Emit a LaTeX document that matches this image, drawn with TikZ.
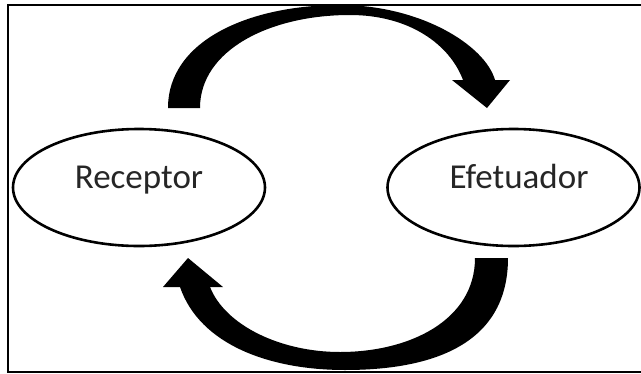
\documentclass[tikz,border=0pt]{standalone}
\usepackage{fontspec}
\setmainfont{Carlito}
\usetikzlibrary{shapes.geometric}
\begin{document}
\begin{tikzpicture}[x=1pt,y=-1pt,
  organ/.style={ellipse,draw=black,line width=2.6pt,inner sep=0pt,
    minimum width=252pt,minimum height=117pt},
  organlabel/.style={anchor=base,inner sep=0pt,text=black!85,
    font=\fontsize{35}{42}\selectfont},
  blockarrow/.style={fill=black,draw=none},
  frameline/.style={line width=2pt}]
\useasboundingbox (0,0) rectangle (641,373);
% open frame: left, top and bottom sides only
\draw[frameline] (641,5) -- (8,5) -- (8,372) -- (641,372);
% the two organs
\node[organ] (rec) at (139,187.5) {};
\node[organ] (efe) at (513.5,187.5) {};
\node[organlabel] (recl) at (139,188) {Receptor};
\node[organlabel] (efel) at (519,188) {Efetuador};
% upper curved arrow, receptor to effector
\fill[blockarrow] (168,108) .. controls (168,40) and (250,5) .. (340,5)
  .. controls (420,5) and (485,45) .. (495,80) -- (510,80) -- (487,108)
  -- (452,80) -- (463,80) .. controls (450,45) and (410,15) .. (350,15)
  .. controls (270,15) and (200,50) .. (200,108) -- cycle;
% lower curved arrow, effector back to receptor
\fill[blockarrow] (508,258) .. controls (508,340) and (440,370) .. (345,370)
  .. controls (270,370) and (200,345) .. (180,287) -- (163,287) -- (188,258)
  -- (223,287) -- (210,287) .. controls (225,325) and (280,352) .. (340,352)
  .. controls (410,352) and (475,320) .. (475,258) -- cycle;
\end{tikzpicture}
\end{document}
